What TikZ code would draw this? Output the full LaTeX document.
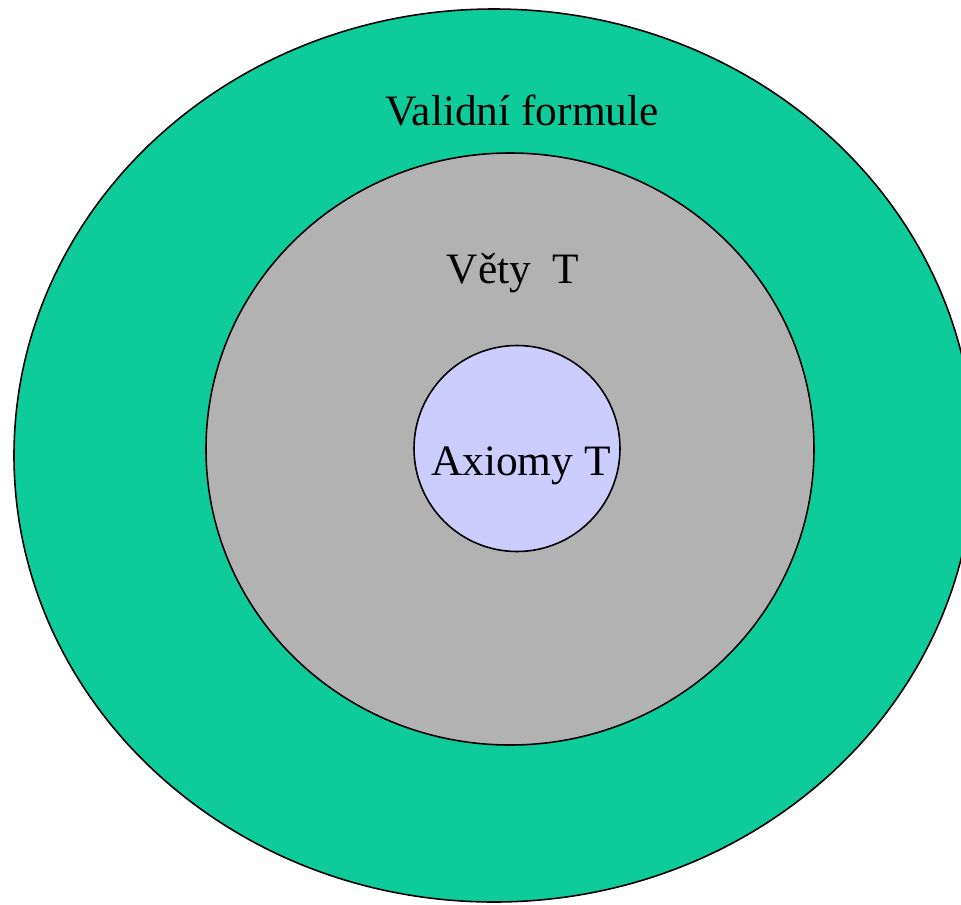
\documentclass[tikz,border=0pt]{standalone}
\usepackage{fontspec}
\setmainfont{Liberation Serif}
\definecolor{validgreen}{RGB}{14,204,154}
\definecolor{vetygray}{RGB}{178,178,178}
\definecolor{axiomblue}{RGB}{204,204,255}
\begin{document}
\begin{tikzpicture}[x=0.02cm,y=-0.02cm,line cap=round,line join=round]
  \useasboundingbox (0,0) rectangle (961,904);
  \clip (0,0) rectangle (961,904);
  \draw[line width=0.9pt,fill=validgreen] (494,455.5) ellipse [x radius=480,y radius=446.5];
  \draw[line width=0.9pt,fill=vetygray] (510,449) ellipse [x radius=304,y radius=296];
  \draw[line width=0.9pt,fill=axiomblue] (517,448.5) circle (103);
  \node[font=\fontsize{24.7}{29}\selectfont,anchor=base] (valid) at (522,125) {Validní formule};
  \node[font=\fontsize{24.7}{29}\selectfont,anchor=base] (vety) at (513,283) {Věty\ \ T};
  \node[font=\fontsize{24.7}{29}\selectfont,anchor=base] (axiomy) at (521,475) {Axiomy T};
\end{tikzpicture}
\end{document}
